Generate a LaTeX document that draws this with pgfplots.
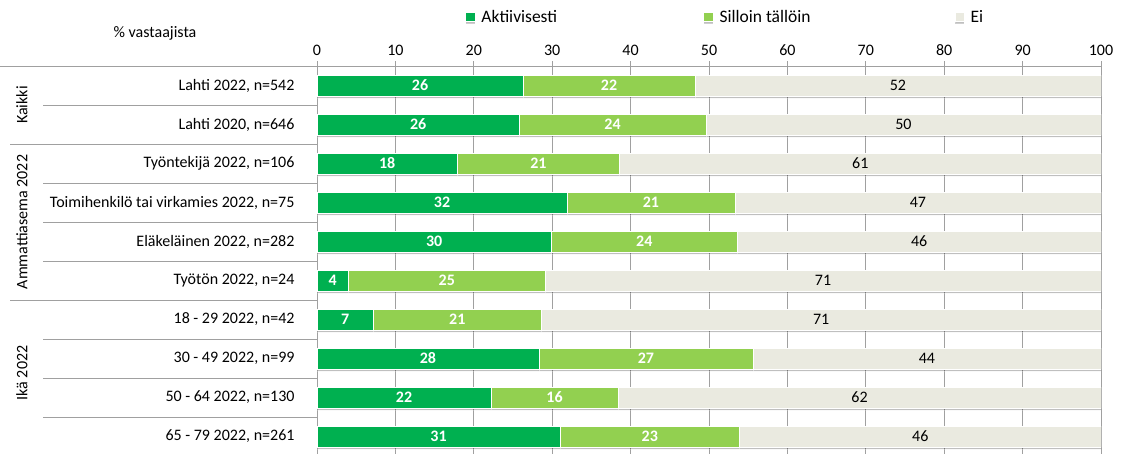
\documentclass[border=0pt]{standalone}
\usepackage{pgfplots}
\pgfplotsset{compat=1.18}
\usetikzlibrary{shadows}
\usepackage{fontspec}
\setmainfont{Carlito}
\definecolor{cA}{HTML}{00B050}
\definecolor{cS}{HTML}{92D050}
\definecolor{cE}{HTML}{EAEAE0}
\definecolor{gl}{HTML}{A0A0A0}
\newcommand{\fs}{\fontsize{16}{18}\selectfont}
\newcommand{\fl}{\fontsize{17.5}{19}\selectfont}
\begin{document}
\begin{tikzpicture}[x=1pt,y=1pt]
\begin{axis}[
  at={(317pt,-456pt)}, anchor=south west,
  scale only axis, width=784pt, height=390pt,
  xbar stacked, bar width=21pt,
  xmin=0, xmax=100, ymin=-0.5, ymax=9.5, y dir=reverse,
  xtick={0,10,...,100},
  ytick={0,...,9},
  yticklabels={{Lahti 2022, n=542},{Lahti 2020, n=646},{Työntekijä 2022, n=106},{Toimihenkilö tai virkamies 2022, n=75},{Eläkeläinen 2022, n=282},{Työtön 2022, n=24},{18 - 29 2022, n=42},{30 - 49 2022, n=99},{50 - 64 2022, n=130},{65 - 79 2022, n=261}},
  axis x line*=top, axis y line*=left,
  axis line style={-, draw=gl, line width=0.8pt},
  xtick pos=top, xticklabel pos=top,
  tick align=outside, major tick length=5pt,
  xtick style={draw=gl, line width=0.8pt},
  ytick style={draw=none},
  xmajorgrids, grid style={draw=gl, line width=0.8pt},
  /pgf/number format/assume math mode=true,
  tick label style={font=\fs, text=black},
  yticklabel style={xshift=-14pt},
  xticklabel style={yshift=2pt},
  point meta=explicit,
  nodes near coords={\pgfmathprintnumber[assume math mode=true,fixed,precision=0]{\pgfplotspointmeta}},
  every node near coord/.append style={anchor=center, font=\fs},
  legend style={at={(0.189,1.1256)}, anchor=west, draw=none, fill=none, inner sep=0pt, legend columns=3, font=\fl, /tikz/every even column/.style={column sep=0pt}},
  legend image code/.code={\fill[#1] (0pt,-4.75pt) rectangle (9.5pt,4.75pt);},
  legend cell align=left,
]
\addplot+[draw=white, line width=0.6pt, fill=cA, drop shadow={shadow xshift=0pt, shadow yshift=-2pt, opacity=0.25, fill=black},
  every node near coord/.append style={text=white, font=\fs\bfseries}]
  table[x=v, y=r, meta=v] {
v r
26.3 0
25.8 1
17.9 2
31.9 3
29.9 4
4.0 5
7.2 6
28.3 7
22.2 8
31.0 9
};
\addlegendentry{\makebox[224pt][l]{\hspace{4pt}Aktiivisesti}}
\addplot+[draw=white, line width=0.6pt, fill=cS, drop shadow={shadow xshift=0pt, shadow yshift=-2pt, opacity=0.25, fill=black},
  every node near coord/.append style={text=white, font=\fs\bfseries}]
  table[x=v, y=r, meta=v] {
v r
21.9 0
23.8 1
20.7 2
21.4 3
23.7 4
25.1 5
21.4 6
27.3 7
16.2 8
22.9 9
};
\addlegendentry{\makebox[237pt][l]{\hspace{4pt}Silloin tällöin}}
\addplot+[draw=white, line width=0.6pt, fill=cE, drop shadow={shadow xshift=0pt, shadow yshift=-2pt, opacity=0.25, fill=black},
  every node near coord/.append style={text=black}]
  table[x=v, y=r, meta=v] {
v r
51.8 0
50.4 1
61.4 2
46.7 3
46.4 4
70.9 5
71.4 6
44.4 7
61.6 8
46.1 9
};
\addlegendentry{\hspace{4pt}Ei}
\end{axis}
\begin{scope}[draw=gl, line width=0.8pt]
\draw (0,-66) -- (317,-66);
\draw (10,-144) -- (317,-144);
\draw (10,-300) -- (317,-300);
\foreach \yy in {105,183,222,261,339,378,417} {\draw (43,-\yy) -- (317,-\yy);}
\end{scope}
\node[rotate=90, font=\fs] at (22,-105) {Kaikki};
\node[rotate=90, font=\fs] at (22,-222) {Ammattiasema 2022};
\node[rotate=90, font=\fs] at (22,-373) {Ikä 2022};
\node[font=\fs] at (155,-33) {\% vastaajista};
\pgfresetboundingbox
\useasboundingbox (0,0) rectangle (1121,-453);
\end{tikzpicture}
\end{document}
